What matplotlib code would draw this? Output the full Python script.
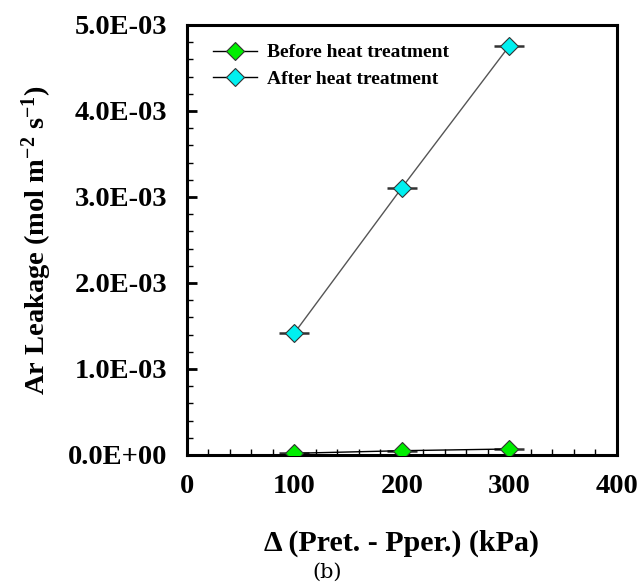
import matplotlib
matplotlib.use("Agg")
import matplotlib.pyplot as plt
from matplotlib.ticker import MultipleLocator

x_vals = [100, 200, 300]
before = [0.02e-3, 0.05e-3, 0.07e-3]
after = [1.42e-3, 3.11e-3, 4.76e-3]
x_ticks = [0, 100, 200, 300, 400]
y_ticks = [0, 1e-3, 2e-3, 3e-3, 4e-3, 5e-3]
y_tick_labels = ["0.0E+00", "1.0E-03", "2.0E-03", "3.0E-03", "4.0E-03", "5.0E-03"]

plt.rcParams['font.family'] = ['Liberation Serif', 'DejaVu Serif']
plt.rcParams['font.weight'] = 'bold'
plt.rcParams['mathtext.fontset'] = 'custom'
plt.rcParams['mathtext.rm'] = 'Liberation Serif:bold'
plt.rcParams['mathtext.bf'] = 'Liberation Serif:bold'
plt.rcParams['mathtext.it'] = 'Liberation Serif:bold'

fig = plt.figure(figsize=(6.38, 5.83), dpi=100)
ax = fig.add_axes([187/638, 1 - 455/583, 430/638, 430/583])

# caps (short horizontal bars) behind markers
for ys in (before, after):
    ax.plot(x_vals, ys, linestyle='none', marker='_', markersize=21,
            markeredgewidth=1.8, color='#333333', zorder=2)

ax.plot(x_vals, before, color='black', lw=1.0,
        marker='D', markersize=8.7, markerfacecolor='#00ee00',
        markeredgecolor='#333333', markeredgewidth=0.8,
        label='Before heat treatment', zorder=3)
ax.plot(x_vals, after, color='#555555', lw=1.0,
        marker='D', markersize=8.7, markerfacecolor='#00f0f0',
        markeredgecolor='#333333', markeredgewidth=0.8,
        label='After heat treatment', zorder=3)

ax.set_xlim(0, 400)
ax.set_ylim(0, 5e-3)
ax.set_xticks(x_ticks)
ax.set_yticks(y_ticks)
ax.set_yticklabels(y_tick_labels)
ax.xaxis.set_minor_locator(MultipleLocator(20))
ax.yaxis.set_minor_locator(MultipleLocator(0.2e-3))
ax.tick_params(which='both', direction='in', top=False, right=False)
ax.tick_params(which='major', length=7, width=2, labelsize=20.5, pad=14)
ax.tick_params(which='minor', length=4, width=1)
for lab in ax.get_xticklabels() + ax.get_yticklabels():
    lab.set_fontweight('bold')
for s in ax.spines.values():
    s.set_linewidth(2.2)

ax.set_xlabel('Δ (Pret. - Pper.) (kPa)', fontsize=21.5, fontweight='bold', labelpad=22)
ax.set_ylabel(r'Ar Leakage (mol m$^{-2}$ s$^{-1}$)', fontsize=20.5, fontweight='bold', labelpad=10)

leg = ax.legend(loc='upper left', frameon=False, fontsize=14, handlelength=2.3,
                bbox_to_anchor=(0.028, 0.988), borderaxespad=0.3, handletextpad=0.5,
                labelspacing=0.45, markerscale=1.0)
for t in leg.get_texts():
    t.set_fontweight('bold')
for h in leg.legend_handles:
    h.set_color('black')

fig.text(327/638, 1 - 572/583, r'(b)', fontsize=15, ha='center', va='center',
         fontweight='normal', family=['DejaVu Serif'])

fig.savefig('out.png', dpi=100)
